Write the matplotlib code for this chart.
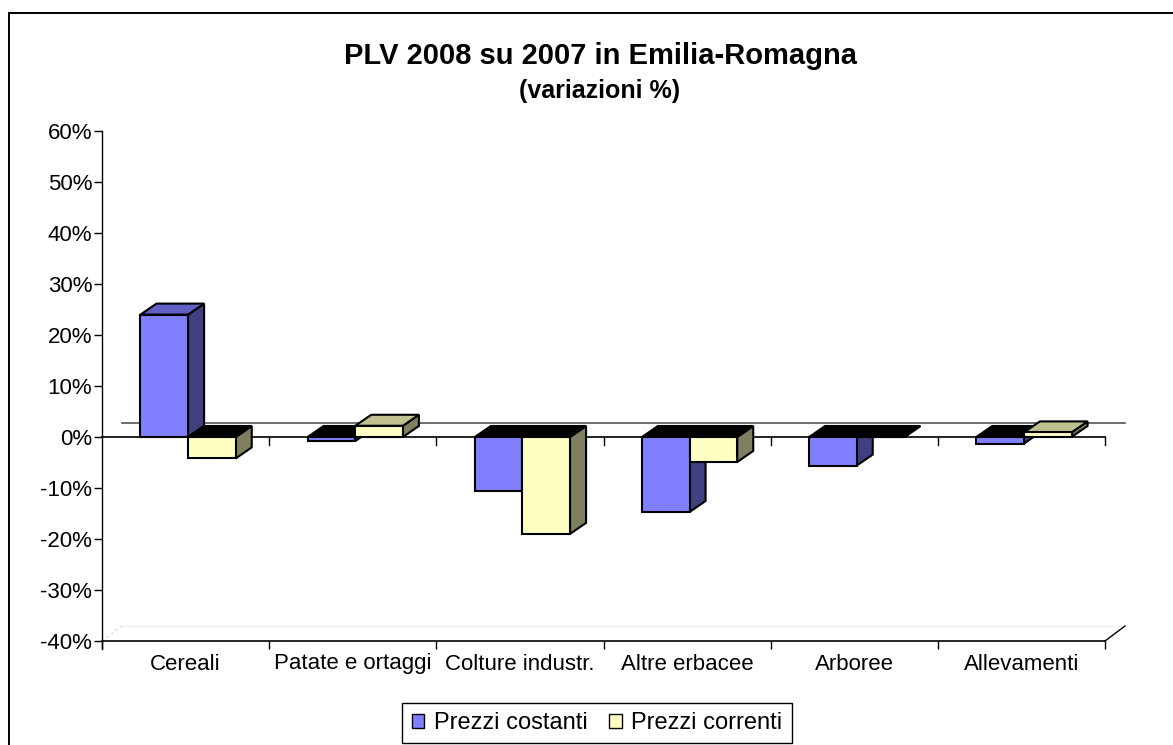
import matplotlib
matplotlib.use('Agg')
import matplotlib.pyplot as plt
from matplotlib.patches import Polygon, Patch
from matplotlib.lines import Line2D
import numpy as np

# Data (percent change 2008 vs 2007)
categories = ['Cereali', 'Patate e ortaggi', 'Colture industr.',
              'Altre erbacee', 'Arboree', 'Allevamenti']
prezzi_costanti = [24.0, -0.8, -10.5, -14.7, -5.6, -1.3]
prezzi_correnti = [-4.2, 2.2, -19.0, -4.9, 0.0, 0.9]
series_names = ['Prezzi costanti', 'Prezzi correnti']
y_ticks = [-40, -30, -20, -10, 0, 10, 20, 30, 40, 50, 60]

plt.rcParams['font.family'] = ['Liberation Sans', 'DejaVu Sans']

W, H = 1173, 745
fig = plt.figure(figsize=(W / 100, H / 100), dpi=100)

# plot area in pixels
left_px, right_px, top_px, bot_px = 102, 1105, 131, 641
ax = fig.add_axes([left_px / W, 1 - bot_px / H,
                   (right_px - left_px) / W, (bot_px - top_px) / H])
ax.set_xlim(0, len(categories))
ax.set_ylim(y_ticks[0], y_ticks[-1])
ux = len(categories) / (right_px - left_px)   # data units per pixel
uy = (y_ticks[-1] - y_ticks[0]) / (bot_px - top_px)

# 3D look: floor, back wall zero line
fdx, fdy = 20 * ux, 15 * uy
n = len(categories)
ax.plot([0, fdx], [y_ticks[0], y_ticks[0] + fdy], color='#dddddd', lw=1,
        ls=(0, (2, 2)), clip_on=False, zorder=1)
ax.plot([fdx, n + fdx], [y_ticks[0] + fdy] * 2, color='#eeeeee', lw=1,
        clip_on=False, zorder=1)
ax.plot([n, n + fdx], [y_ticks[0], y_ticks[0] + fdy], color='black', lw=1,
        clip_on=False, zorder=1)
ax.plot([fdx, n + fdx], [14 * uy] * 2, color='#555555', lw=1.2,
        clip_on=False, zorder=1)
ax.plot([0, n], [0, 0], color='black', lw=1.2, zorder=1.5, clip_on=False)
for b in range(1, n + 1):
    ax.plot([b, b], [0, -8 * uy], color='black', lw=1, zorder=1.5, clip_on=False)
ax.plot([0, 0], [y_ticks[0], y_ticks[0] - 8 * uy], color='black', lw=1,
        clip_on=False)

# bars
front = ['#8080ff', '#ffffc4']
side = ['#404080', '#808060']
top = ['#6060c4', '#c0c090']
bw = 0.285
bdx, bdy = 16 * ux, 11 * uy
centers = np.arange(n) + 0.515
for s, vals in enumerate([prezzi_costanti, prezzi_correnti]):
    xs = centers + (s - 0.5) * bw
    z = 3 + s
    ax.bar(xs, vals, width=bw, color=front[s], edgecolor='black',
           linewidth=1.5, zorder=z + 0.5)
    for xc, v in zip(xs, vals):
        x0, x1 = xc - bw / 2, xc + bw / 2
        ax.add_patch(Polygon([(x1, 0), (x1 + bdx, bdy), (x1 + bdx, v + bdy), (x1, v)],
                             closed=True, facecolor=side[s], edgecolor='black',
                             lw=1.5, zorder=z))
        ytop = max(v, 0)
        ax.add_patch(Polygon([(x0, ytop), (x1, ytop), (x1 + bdx, ytop + bdy),
                              (x0 + bdx, ytop + bdy)], closed=True,
                             facecolor=top[s] if v > 0 else 'black',
                             edgecolor='black', lw=1.5, zorder=z))

# axes styling
for sp in ['top', 'right']:
    ax.spines[sp].set_visible(False)
ax.spines['left'].set_linewidth(1)
ax.spines['bottom'].set_linewidth(1.2)
ax.spines['left'].set_zorder(2)
ax.set_yticks(y_ticks)
ax.set_yticklabels([f'{v}%' for v in y_ticks], fontsize=16)
ax.tick_params(axis='y', length=6, width=1, pad=1)
ax.set_xticks(range(n + 1))
ax.set_xticklabels([])
ax.tick_params(axis='x', which='major', length=6, width=1)
ax.set_xticks(np.arange(n) + 0.5, minor=True)
ax.set_xticklabels(categories, minor=True, fontsize=16)
ax.tick_params(axis='x', which='minor', length=0, pad=9)

# titles
fig.text(601 / W, 1 - 56 / H, 'PLV 2008 su 2007 in Emilia-Romagna',
         ha='center', va='center', fontsize=21, fontweight='bold')
fig.text(600 / W, 1 - 91 / H, '(variazioni %)',
         ha='center', va='center', fontsize=18, fontweight='bold')

# legend
handles = [Patch(facecolor=front[i], edgecolor='black', lw=1, label=series_names[i])
           for i in range(2)]
leg = fig.legend(handles=handles, ncol=2, loc='center',
                 bbox_to_anchor=(597 / W, 1 - 723 / H), fontsize=17,
                 frameon=True, fancybox=False, edgecolor='black', framealpha=1,
                 handlelength=0.55, handleheight=0.55, handletextpad=0.4,
                 columnspacing=0.9, borderpad=0.4, borderaxespad=0)
leg.get_frame().set_linewidth(1)

# outer chart border (left and top visible)
fig.add_artist(Line2D([9 / W, 9 / W], [0, 1 - 13 / H], transform=fig.transFigure,
                      color='black', lw=1.4))
fig.add_artist(Line2D([9 / W, 1], [1 - 13 / H, 1 - 13 / H], transform=fig.transFigure,
                      color='black', lw=1.4))

fig.savefig('out.png', dpi=100)
